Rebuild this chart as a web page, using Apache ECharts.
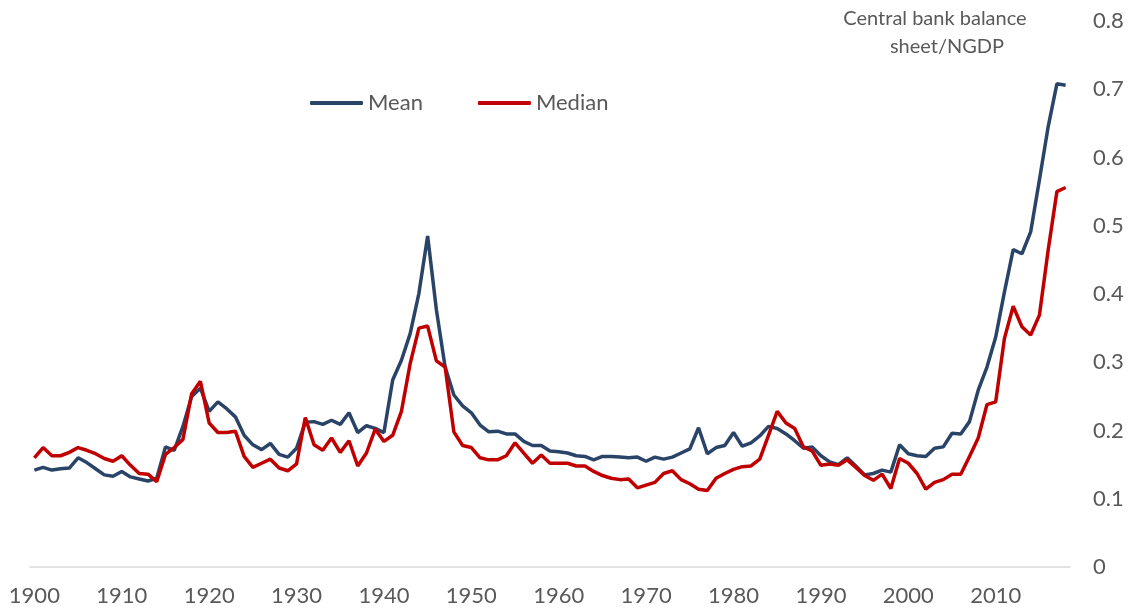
<!DOCTYPE html>
<html>
<head>
<meta charset="utf-8">
<title>Central bank balance sheet/NGDP</title>
<script src="https://cdn.jsdelivr.net/npm/echarts@6/dist/echarts.min.js"></script>
<style>
  html, body { margin: 0; padding: 0; background: #fff; }
  #chart { width: 1128px; height: 610px; }
</style>
</head>
<body>
<div id="chart"></div>
<script>
// years 1900..2018
const years = [];
for (let y = 1900; y <= 2018; y++) { years.push(String(y)); }

const meanValues = [
  0.142, 0.146, 0.142, 0.144, 0.145, 0.160, 0.153, 0.144, 0.135, 0.133,
  0.140, 0.132, 0.129, 0.126, 0.130, 0.176, 0.171, 0.206, 0.250, 0.262,
  0.228, 0.242, 0.232, 0.220, 0.193, 0.179, 0.172, 0.181, 0.165, 0.161,
  0.174, 0.212, 0.213, 0.209, 0.215, 0.209, 0.226, 0.197, 0.207, 0.203,
  0.197, 0.274, 0.303, 0.342, 0.401, 0.485, 0.377, 0.293, 0.252, 0.236,
  0.226, 0.208, 0.198, 0.199, 0.195, 0.195, 0.184, 0.178, 0.178, 0.170,
  0.169, 0.167, 0.163, 0.162, 0.157, 0.162, 0.162, 0.161, 0.160, 0.161,
  0.155, 0.161, 0.158, 0.161, 0.167, 0.173, 0.204, 0.166, 0.175, 0.178,
  0.197, 0.177, 0.182, 0.192, 0.206, 0.203, 0.195, 0.185, 0.174, 0.176,
  0.163, 0.154, 0.150, 0.160, 0.148, 0.135, 0.137, 0.142, 0.139, 0.179,
  0.166, 0.163, 0.162, 0.174, 0.176, 0.196, 0.195, 0.213, 0.259, 0.293,
  0.337, 0.403, 0.465, 0.459, 0.491, 0.567, 0.645, 0.708, 0.706
];

const medianValues = [
  0.160, 0.175, 0.163, 0.163, 0.168, 0.175, 0.171, 0.166, 0.159, 0.155,
  0.163, 0.149, 0.137, 0.136, 0.125, 0.165, 0.175, 0.187, 0.254, 0.272,
  0.211, 0.197, 0.197, 0.199, 0.162, 0.146, 0.152, 0.158, 0.145, 0.141,
  0.151, 0.219, 0.179, 0.171, 0.189, 0.168, 0.185, 0.148, 0.167, 0.202,
  0.184, 0.193, 0.228, 0.298, 0.350, 0.353, 0.302, 0.293, 0.198, 0.178,
  0.175, 0.160, 0.157, 0.157, 0.163, 0.182, 0.167, 0.152, 0.164, 0.152,
  0.152, 0.152, 0.148, 0.148, 0.140, 0.134, 0.130, 0.128, 0.129, 0.116,
  0.120, 0.124, 0.137, 0.141, 0.128, 0.122, 0.114, 0.112, 0.130, 0.137,
  0.143, 0.147, 0.148, 0.158, 0.193, 0.228, 0.211, 0.203, 0.176, 0.170,
  0.149, 0.151, 0.149, 0.157, 0.146, 0.134, 0.127, 0.136, 0.115, 0.159,
  0.152, 0.137, 0.114, 0.124, 0.128, 0.136, 0.136, 0.162, 0.189, 0.238,
  0.242, 0.335, 0.382, 0.352, 0.340, 0.369, 0.464, 0.550, 0.556
];

const FONT = 'Lato, "Liberation Sans", sans-serif';
const GREY = '#595959';

const chart = echarts.init(document.getElementById('chart'), null, { renderer: 'canvas' });

chart.setOption({
  animation: false,
  backgroundColor: '#fff',
  textStyle: { fontFamily: FONT },
  grid: { left: 30, right: 58, top: 21, bottom: 43, containLabel: false },
  legend: {
    left: 305,
    top: 87,
    itemWidth: 53,
    itemHeight: 4,
    itemGap: 55,
    icon: 'roundRect',
    textStyle: { color: GREY, fontSize: 22, fontFamily: FONT },
    data: ['Mean', 'Median']
  },
  graphic: [
    // axis caption, two centred lines like the original
    { type: 'text', x: 935, y: 9, style: { text: 'Central bank balance', textAlign: 'center', fill: GREY, font: '20px ' + FONT } },
    { type: 'text', x: 947, y: 37, style: { text: 'sheet/NGDP', textAlign: 'center', fill: GREY, font: '20px ' + FONT } }
  ],
  xAxis: {
    type: 'category',
    data: years,
    boundaryGap: true,
    axisLine: { lineStyle: { color: '#D9D9D9', width: 1.5 } },
    axisTick: { show: false },
    axisLabel: { interval: 9, color: GREY, fontSize: 22, margin: 18, fontFamily: FONT },
    splitLine: { show: false }
  },
  yAxis: {
    type: 'value',
    position: 'right',
    min: 0,
    max: 0.8,
    interval: 0.1,
    axisLine: { show: false },
    axisTick: { show: false },
    splitLine: { show: false },
    axisLabel: { color: GREY, fontSize: 22, margin: 23, fontFamily: FONT }
  },
  series: [
    {
      name: 'Mean',
      type: 'line',
      data: meanValues,
      showSymbol: false,
      symbol: 'none',
      color: '#2A4468',
      lineStyle: { color: '#2A4468', width: 3.5 }
    },
    {
      name: 'Median',
      type: 'line',
      data: medianValues,
      showSymbol: false,
      symbol: 'none',
      color: '#C00000',
      lineStyle: { color: '#C00000', width: 3.5 }
    }
  ]
});

window.addEventListener('resize', () => chart.resize());
</script>
</body>
</html>
